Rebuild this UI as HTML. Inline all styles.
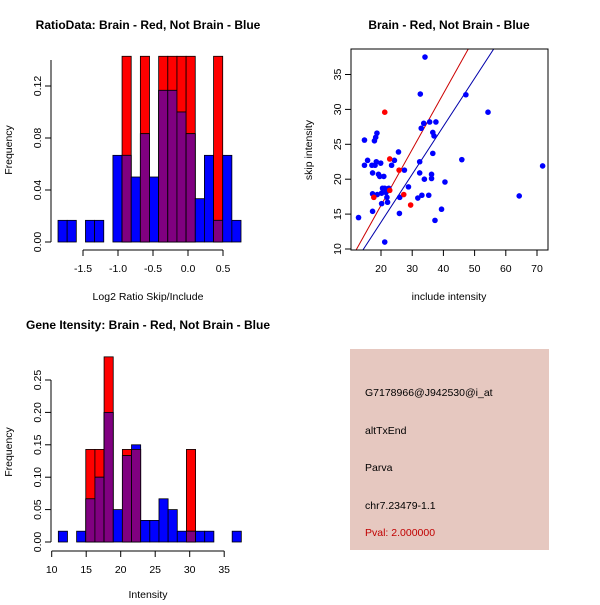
<!DOCTYPE html>
<html><head><meta charset="utf-8"><style>
body{margin:0;background:#fff}
svg text{font-family:"Liberation Sans",sans-serif;font-size:10.5px}
.t{font-weight:bold;font-size:12px}
</style></head><body>
<svg id="s" width="600" height="600" xmlns="http://www.w3.org/2000/svg">
<g id="g1"></g>
<g id="g2"></g>
<g id="g3"></g>
<g>
<rect x="350" y="349" width="199" height="201" fill="#e6c8c0"/>
<text x="365" y="396">G7178966@J942530@i_at</text>
<text x="365" y="434">altTxEnd</text>
<text x="365" y="471">Parva</text>
<text x="365" y="509">chr7.23479-1.1</text>
<text x="365" y="536" fill="#c00000">Pval: 2.000000</text>
</g>
</svg>
<script>
// Chart 1 data
const ratioBlue=[1,1,0,1,1,0,4,4,3,5,3,7,7,6,5,2,4,1,4,1]; // counts of 60
const ratioRed=[0,0,0,0,0,0,0,1,0,1,0,1,1,1,1,0,0,1,0,0]; // counts of 7
const ratioXTicks=[-1.5,-1.0,-0.5,0,0.5];
const ratioXLabels=["-1.5","-1.0","-0.5","0.0","0.5"];
const ratioYTicks=[0,0.04,0.08,0.12];
const ratioYLabels=["0.00","0.04","0.08","0.12"];
// Chart 2 data
const blueX=[12.8,14.7,14.7,15.7,17.1,17.3,17.3,17.3,17.9,18.3,18.7,18.1,18.5,18.8,19.2,19.6,19.9,20.2,20.2,20.5,20.9,21.2,21.2,21.6,21.9,22.1,22.5,23.4,24.3,25.6,25.9,26.0,27.5,28.8,31.8,32.4,32.4,32.6,32.9,33.1,33.7,34.1,33.9,35.3,35.6,36.2,36.2,36.6,36.6,37.0,37.3,37.6,39.4,40.5,45.9,47.2,54.3,64.3,71.8];
const blueY=[14.5,25.6,22.0,22.7,22.0,20.9,15.4,17.9,25.5,26.0,26.6,22.0,22.5,17.8,20.7,20.4,22.3,16.5,18.0,18.7,20.4,11.0,18.7,18.1,17.4,16.7,18.7,22.0,22.7,23.9,15.1,17.4,21.3,18.9,17.3,20.9,22.5,32.2,27.3,17.7,28.0,37.5,20.0,17.7,28.2,20.7,20.1,26.7,23.7,26.2,14.1,28.2,15.7,19.6,22.8,32.1,29.6,17.6,21.9];
const redX=[21.2,22.8,25.8,27.3,29.5,17.7,22.8];
const redY=[29.6,22.9,21.3,17.8,16.3,17.4,18.4];
const fitRed=[0.23,0.801]; // intercept, slope
const fitBlue=[0.1,0.687];
const scXTicks=[20,30,40,50,60,70];
const scYTicks=[10,15,20,25,30,35];
// Chart 3 data
const geneBlue=[1,0,1,4,6,12,3,8,9,2,2,4,3,1,1,1,1,0,0,1];
const geneRed=[0,0,0,1,1,2,0,1,1,0,0,0,0,0,1,0,0,0,0,0];
const geneXTicks=[10,15,20,25,30,35];
const geneYTicks=[0,0.05,0.10,0.15,0.20,0.25];
const geneYLabels=["0.00","0.05","0.10","0.15","0.20","0.25"];

const NS="http://www.w3.org/2000/svg";
function mk(p,tag,a,txt){const e=document.createElementNS(NS,tag);for(const k in a)e.setAttribute(k,a[k]);if(txt!==undefined)e.textContent=txt;p.appendChild(e);return e;}

function hist(g,blue,red,bx0,bw,yb,ys,ymaxPx){
  for(let i=0;i<blue.length;i++){
    const x=bx0+i*bw, b=blue[i]/60, r=red[i]/7;
    const top=v=>Math.max(yb-v*ys,ymaxPx);
    if(r>0){const e=mk(g,'rect',{x:x,y:top(r),width:bw,height:yb-top(r),fill:'#ff0000',stroke:'#000','stroke-width':0.8});
      
      }
    if(b>0){const e=mk(g,'rect',{x:x,y:top(b),width:bw,height:yb-top(b),fill:'#0000ff',stroke:'#000','stroke-width':0.8});
      
      }
    const m=Math.min(b,r);
    if(m>0){const e=mk(g,'rect',{x:x,y:top(m),width:bw,height:yb-top(m),fill:'#800080',stroke:'#000','stroke-width':0.8});
      
      }
  }
}
function yaxis(g,x,ticks,labels,ypx,y0,y1){
  mk(g,'line',{x1:x,x2:x,y1:y0,y2:y1,stroke:'#000'});
  ticks.forEach((t,i)=>{const y=ypx(t);mk(g,'line',{x1:x-6,x2:x,y1:y,y2:y,stroke:'#000'});
    const e=mk(g,'text',{x:x-10,y:y,'text-anchor':'middle',transform:`rotate(-90 ${x-10} ${y})`},labels[i]);
    
    });
}
function xaxis(g,y,ticks,labels,xpx){
  mk(g,'line',{x1:xpx(ticks[0]),x2:xpx(ticks[ticks.length-1]),y1:y,y2:y,stroke:'#000'});
  ticks.forEach((t,i)=>{const x=xpx(t);mk(g,'line',{x1:x,x2:x,y1:y,y2:y+6,stroke:'#000'});
    const e=mk(g,'text',{x:x,y:y+22,'text-anchor':'middle'},labels[i]);
    
    });
}
function label(g,x,y,txt,name,cls,rot){
  const a={x:x,y:y,'text-anchor':'middle'};if(cls)a['class']=cls;if(rot)a.transform=`rotate(-90 ${x} ${y})`;
  const e=mk(g,'text',a,txt);
  
  
}

// Chart 1
(function(){
  const g=document.getElementById('g1');
  const xpx=v=>188+v*70, ypx=v=>242-v*1300;
  hist(g,ratioBlue,ratioRed,xpx(-1.857),9.15,242,1300,ypx(0.143));
  yaxis(g,51,ratioYTicks,ratioYLabels,ypx,242,ypx(0.14));
  xaxis(g,250,ratioXTicks,ratioXLabels,xpx);
  label(g,148,29,'RatioData: Brain - Red, Not Brain - Blue','chart1-title','t');
  label(g,148,300,'Log2 Ratio Skip/Include','chart1-x-title');
  label(g,12,150,'Frequency','chart1-y-title',null,true);
})();
// Chart 2
(function(){
  const g=document.getElementById('g2');
  const xpx=v=>381+(v-20)*3.12, ypx=v=>249-(v-10)*6.98;
  mk(g,'defs',{}).innerHTML='<clipPath id="c2"><rect x="351" y="49" width="197" height="201"/></clipPath>';
  const lg=mk(g,'g',{'clip-path':'url(#c2)'});
  [[fitRed,'#cc0000','red-fit-line'],[fitBlue,'#0000aa','blue-fit-line']].forEach(([f,c,n])=>{
    const e=mk(lg,'line',{x1:xpx(5),y1:ypx(f[0]+f[1]*5),x2:xpx(80),y2:ypx(f[0]+f[1]*80),stroke:c});
    
    });
  blueX.forEach((v,i)=>{const e=mk(g,'circle',{cx:xpx(v),cy:ypx(blueY[i]),r:2.8,fill:'#0000ff'});
    
    });
  redX.forEach((v,i)=>{const e=mk(g,'circle',{cx:xpx(v),cy:ypx(redY[i]),r:2.8,fill:'#ff0000'});
    
    });
  mk(g,'rect',{x:351,y:49,width:197,height:201,fill:'none',stroke:'#000'});
  scYTicks.forEach(t=>{const y=ypx(t);mk(g,'line',{x1:345,x2:351,y1:y,y2:y,stroke:'#000'});
    const e=mk(g,'text',{x:341,y:y,'text-anchor':'middle',transform:`rotate(-90 341 ${y})`},String(t));
    
    });
  scXTicks.forEach(t=>{const x=xpx(t);mk(g,'line',{x1:x,x2:x,y1:250,y2:256,stroke:'#000'});
    const e=mk(g,'text',{x:x,y:272,'text-anchor':'middle'},String(t));
    
    });
  label(g,449,29,'Brain - Red, Not Brain - Blue','chart2-title','t');
  label(g,449,300,'include intensity','chart2-x-title');
  label(g,312,150,'skip intensity','chart2-y-title',null,true);
})();
// Chart 3
(function(){
  const g=document.getElementById('g3');
  const xpx=v=>51.7+(v-10)*6.9, ypx=v=>542-v*648;
  hist(g,geneBlue,geneRed,xpx(10.96),9.15,542,648,0);
  yaxis(g,51,geneYTicks,geneYLabels,ypx,542,ypx(0.25));
  xaxis(g,551,geneXTicks,geneXTicks.map(String),xpx);
  label(g,148,329,'Gene Itensity: Brain - Red, Not Brain - Blue','chart3-title','t');
  label(g,148,598,'Intensity','chart3-x-title');
  label(g,12,452,'Frequency','chart3-y-title',null,true);
})();
</script>
</body></html>
